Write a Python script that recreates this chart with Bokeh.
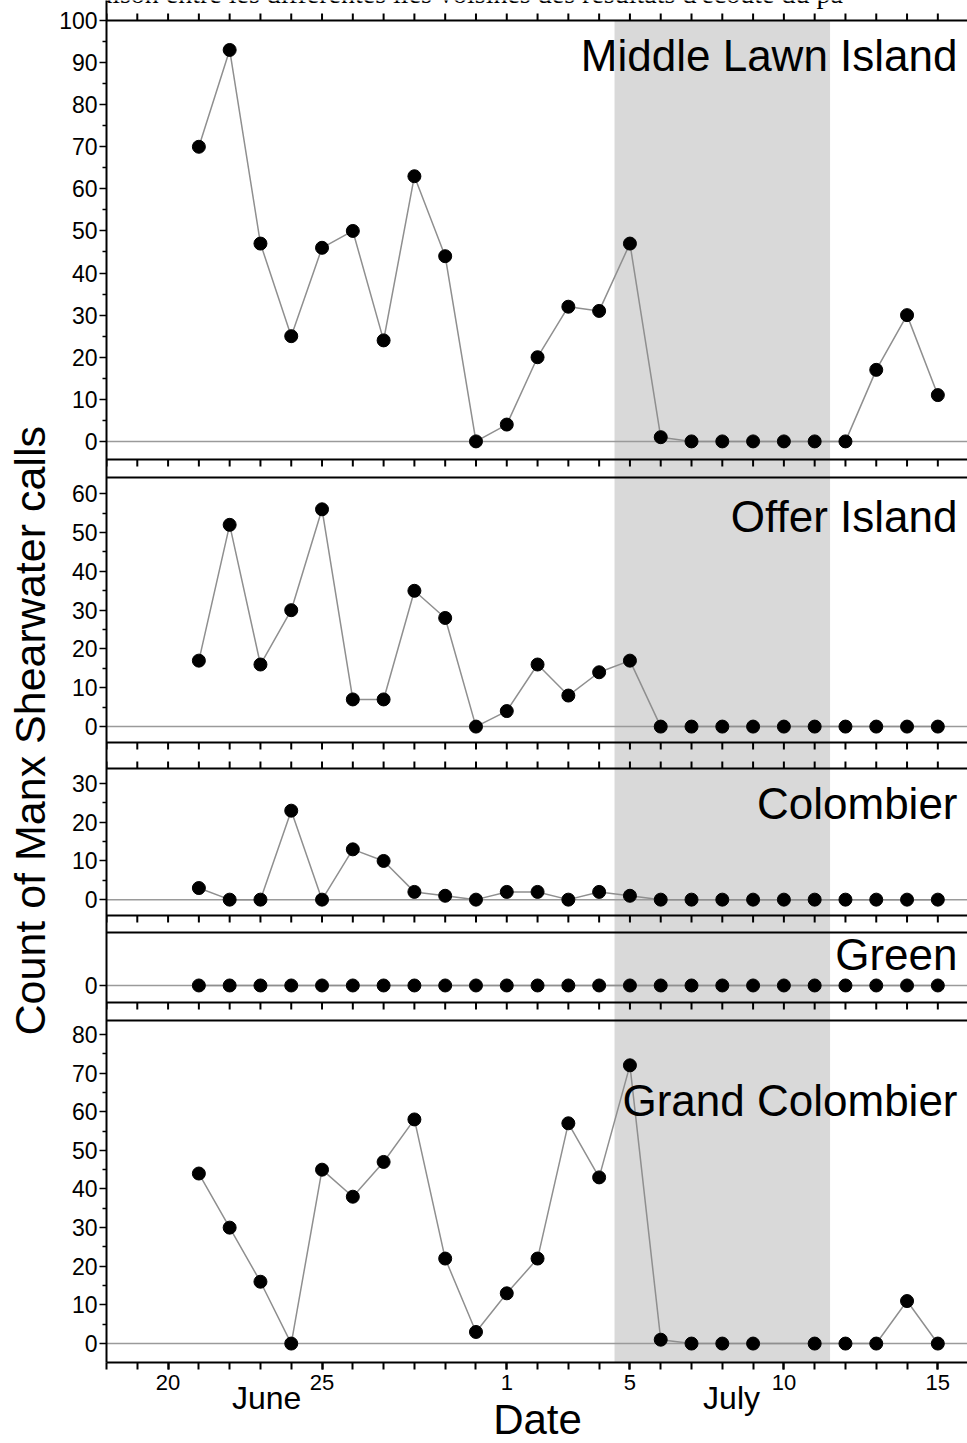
import math
from bokeh.plotting import figure
from bokeh.models import Range1d, FixedTicker, LinearAxis, Span, BoxAnnotation, Label, Title
from bokeh.embed import file_html
from bokeh.resources import INLINE

# ---------------- data ----------------
june_days = [21, 22, 23, 24, 25, 26, 27, 28, 29, 30]
july_days = [1, 2, 3, 4, 5, 6, 7, 8, 9, 10, 11, 12, 13, 14, 15]

middle_lawn = [70, 93, 47, 25, 46, 50, 24, 63, 44, 0,
               4, 20, 32, 31, 47, 1, 0, 0, 0, 0, 0, 0, 17, 30, 11]
offer = [17, 52, 16, 30, 56, 7, 7, 35, 28, 0,
         4, 16, 8, 14, 17, 0, 0, 0, 0, 0, 0, 0, 0, 0, 0]
colombier = [3, 0, 0, 23, 0, 13, 10, 2, 1, 0,
             2, 2, 0, 2, 1, 0, 0, 0, 0, 0, 0, 0, 0, 0, 0]
green = [0, 0, 0, 0, 0, 0, 0, 0, 0, 0,
         0, 0, 0, 0, 0, 0, 0, 0, 0, 0, 0, 0, 0, 0, 0]
grand_colombier = [44, 30, 16, 0, 45, 38, 47, 58, 22, 3,
                   13, 22, 57, 43, 72, 1, 0, 0, 0, None, 0, 0, 0, 11, 0]

site_names = ["Middle Lawn Island", "Offer Island", "Colombier", "Green", "Grand Colombier"]
site_values = [middle_lawn, offer, colombier, green, grand_colombier]
y_label_max = [100, 60, 30, 0, 80]          # highest labelled tick per panel

x_tick_days = [20, 25, 31, 35, 40, 45]      # day index (June 1 = 1, July 1 = 31)
x_tick_labels = ["20", "25", "1", "5", "10", "15"]
month_names = ["June", "July"]
month_centres = [23.2, 38.3]
shade_start, shade_end = 34.5, 41.5          # July 4.5 -> July 11.5

title_text = "Comparaison entre les différentes îles voisines des résultats d'écoute du pa"
y_title = "Count of Manx Shearwater calls"
x_title = "Date"

# ---------------- layout (page pixels) ----------------
W, H = 967, 1443
FRAME_LEFT, FRAME_RIGHT = 104, 966
FRAME_TOP, FRAME_BOTTOM = 0, 1362
PX_PER_DAY = 30.79
X_START = 18
X_END = X_START + (FRAME_RIGHT - FRAME_LEFT) / PX_PER_DAY
panel_px = [(20, 459), (477, 742), (768, 915), (932, 1002), (1020, 1362)]
panel_lims = [(-4.3, 100), (-4.1, 64.2), (-4.1, 33.9), (-4.4, 13.7), (-4.9, 83.6)]
title_baseline = [52, 56, 52, 39, 97]       # baseline below panel top
BASELINE_SHIFT = 0.39                      # label anchor correction (fraction of font size)
TICK = 7
FONT = "Liberation Sans"

def gy(i, v):
    top, bot = panel_px[i]
    lo, hi = panel_lims[i]
    return bot - (v - lo) * (bot - top) / (hi - lo)

def sx(px):
    return X_START + (px - FRAME_LEFT) / PX_PER_DAY

days_x = june_days + [30 + d for d in july_days]
day_ticks = list(range(X_START, int(math.floor(X_END)) + 1))

p = figure(frame_width=FRAME_RIGHT - FRAME_LEFT, frame_height=FRAME_BOTTOM - FRAME_TOP,
           x_range=Range1d(X_START, X_END), y_range=Range1d(FRAME_BOTTOM, FRAME_TOP),
           min_border_left=FRAME_LEFT, min_border_right=W - FRAME_RIGHT,
           min_border_top=0, min_border_bottom=H - FRAME_BOTTOM,
           output_backend="svg", toolbar_location=None)
p.xgrid.visible = False
p.ygrid.visible = False
p.outline_line_color = None
p.background_fill_color = "white"
p.border_fill_color = "white"

# shaded period
p.add_layout(BoxAnnotation(left=shade_start, right=shade_end, top=panel_px[0][0],
                           bottom=panel_px[4][1], fill_color="#d9d9d9",
                           fill_alpha=1.0, line_color=None, level="underlay"))

# zero lines
for i in range(5):
    p.add_layout(Span(location=gy(i, 0), dimension="width", line_color="#9a9a9a",
                      line_width=1.5, level="underlay"))

# right border
p.add_layout(Span(location=X_END, dimension="height", line_color="#9a9a9a", line_width=2))

# panel borders and day ticks
n = len(day_ticks)
for i in range(5):
    top, bot = panel_px[i]
    p.add_layout(Span(location=top, dimension="width", line_color="black", line_width=2))
    if i < 4:
        p.add_layout(Span(location=bot, dimension="width", line_color="black", line_width=2))
        p.segment(x0=day_ticks, x1=day_ticks, y0=[bot] * n, y1=[bot + TICK] * n,
                  line_color="black", line_width=2)
    if i in (0, 2):
        p.segment(x0=day_ticks, x1=day_ticks, y0=[top] * n, y1=[top - TICK] * n,
                  line_color="black", line_width=2)

# data
for i, vals in enumerate(site_values):
    xs = [x for x, v in zip(days_x, vals) if v is not None]
    ys = [gy(i, v) for v in vals if v is not None]
    p.line(xs, ys, line_color="#8f8f8f", line_width=1.5)
    p.scatter(xs, ys, size=13, fill_color="black", line_color="black")

# panel titles
for i, name in enumerate(site_names):
    p.add_layout(Label(x=sx(955), y=panel_px[i][0] + title_baseline[i] - BASELINE_SHIFT * 44,
                       text=name, text_align="right", text_baseline="alphabetic",
                       text_font=FONT, text_font_size="44px", text_color="black"))

# cropped page title at the very top
p.add_layout(Label(x=sx(7), y=4 - BASELINE_SHIFT * 28, text=title_text, text_align="left",
                   text_baseline="alphabetic",
                   text_font="Liberation Serif", text_font_size="28px", text_color="black"))

# y axis (one axis, ticks per panel)
major, minor, overrides = [], [], {}
for i in range(5):
    for v in range(0, y_label_max[i] + 1, 10):
        g = round(gy(i, v), 3)
        major.append(g)
        overrides[g] = str(v)
        key = str(int(g)) if g == int(g) else repr(g)
        overrides[key] = str(v)
    if y_label_max[i] > 0:
        for v in range(5, y_label_max[i], 10):
            minor.append(round(gy(i, v), 3))
yax = p.yaxis[0]
yax.ticker = FixedTicker(ticks=major, minor_ticks=minor)
yax.major_label_overrides = overrides
yax.axis_line_width = 2
yax.major_tick_out = 7
yax.major_tick_in = 0
yax.minor_tick_out = 4
yax.minor_tick_in = 0
yax.major_tick_line_width = 1.5
yax.minor_tick_line_width = 1.5
yax.major_label_standoff = 2
yax.major_label_text_font = FONT
yax.major_label_text_font_size = "23px"
yax.major_label_text_color = "black"

p.add_layout(Title(text=y_title, align="left", offset=FRAME_BOTTOM - 1035,
                   vertical_align="bottom", standoff=6,
                   text_font=FONT, text_font_size="43px", text_font_style="normal",
                   text_color="black"), "left")

# x axis bottom (day numbers)
xax = p.xaxis[0]
xax.ticker = FixedTicker(ticks=x_tick_days, minor_ticks=day_ticks)
xax.major_label_overrides = {d: lab for d, lab in zip(x_tick_days, x_tick_labels)}
xax.axis_line_width = 2
xax.major_tick_out = TICK
xax.major_tick_in = 0
xax.minor_tick_out = TICK
xax.minor_tick_in = 0
xax.major_tick_line_width = 2
xax.minor_tick_line_width = 2
xax.major_label_standoff = 5
xax.major_label_text_font = FONT
xax.major_label_text_font_size = "22px"
xax.major_label_text_color = "black"

# month names + axis title
month_axis = LinearAxis(ticker=FixedTicker(ticks=month_centres, minor_ticks=[]),
                        major_label_overrides={c: m for c, m in zip(month_centres, month_names)},
                        axis_line_color=None, major_tick_line_color=None,
                        major_tick_out=0, major_tick_in=0,
                        major_label_standoff=-13,
                        major_label_text_font=FONT, major_label_text_font_size="32px",
                        major_label_text_color="black",
                        axis_label=x_title, axis_label_standoff=-23,
                        axis_label_text_font=FONT, axis_label_text_font_size="42px",
                        axis_label_text_font_style="normal", axis_label_text_color="black")
p.add_layout(month_axis, "below")

open("out.html", "w").write(file_html(p, INLINE))
